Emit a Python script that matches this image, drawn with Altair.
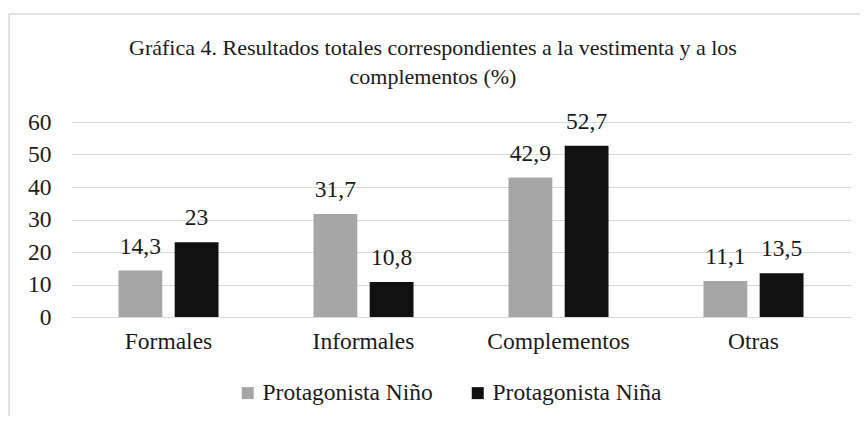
import altair as alt
import pandas as pd

categorias = ["Formales", "Informales", "Complementos", "Otras"]
series = ["Protagonista Niño", "Protagonista Niña"]
ninio = [14.3, 31.7, 42.9, 11.1]
ninia = [23, 10.8, 52.7, 13.5]
colores = ["#a6a6a6", "#111111"]

rows = []
for c, a, b in zip(categorias, ninio, ninia):
    rows.append({"categoria": c, "serie": series[0], "valor": a})
    rows.append({"categoria": c, "serie": series[1], "valor": b})
df = pd.DataFrame(rows)

FONT = "Liberation Serif"
FS = 23.5
TXT = "#1a1a1a"

x_enc = alt.X("categoria:N", sort=categorias, title=None,
              scale=alt.Scale(paddingInner=0.487, paddingOuter=0.2435),
              axis=alt.Axis(labelAngle=0, ticks=False, domain=True, domainColor="#d9d9d9",
                            labelPadding=12, labelFontSize=FS, labelFont=FONT, labelColor=TXT,
                            grid=False))
xoff = alt.XOffset("serie:N", sort=series, scale=alt.Scale(paddingInner=0.22, paddingOuter=0))
y_enc = alt.Y("valor:Q", title=None,
              scale=alt.Scale(domain=[0, 60]),
              axis=alt.Axis(values=[0, 10, 20, 30, 40, 50, 60], ticks=False, domain=False,
                            grid=True, gridColor="#d9d9d9", gridWidth=1,
                            labelPadding=20, labelFontSize=FS, labelFont=FONT, labelColor=TXT))

base = alt.Chart(df)

bars = base.mark_bar().encode(
    x=x_enc, xOffset=xoff, y=y_enc,
    color=alt.Color("serie:N", sort=series,
                    scale=alt.Scale(domain=series, range=colores),
                    legend=alt.Legend(title=None, orient="none", direction="horizontal",
                                      legendX=165, legendY=259, symbolType="square",
                                      symbolSize=144, symbolStrokeWidth=0,
                                      labelFontSize=FS, labelFont=FONT, labelColor=TXT,
                                      labelLimit=400, labelOffset=3, columnPadding=33)),
)

labels = base.transform_calculate(
    etiqueta="replace(toString(datum.valor), '.', ',')"
).mark_text(baseline="alphabetic", dy=-17, fontSize=FS, font=FONT, color=TXT).encode(
    x=x_enc, xOffset=xoff, y=y_enc, text="etiqueta:N"
)

one = pd.DataFrame({"a": [0]})
frame_top = alt.Chart(one).mark_rule(stroke="#d9d9d9", strokeWidth=1.5).encode(
    x=alt.value(-62), x2=alt.value(900), y=alt.value(-108))
frame_left = alt.Chart(one).mark_rule(stroke="#d9d9d9", strokeWidth=1.5).encode(
    x=alt.value(-62), y=alt.value(-108), y2=alt.value(600))

chart = alt.layer(frame_top, frame_left, bars, labels).properties(
    width=780, height=195,
    autosize=alt.AutoSizeParams(type="none"),
    padding={"left": 63, "top": 114, "right": 9, "bottom": 99},
    title=alt.TitleParams(
        text=["Gráfica 4. Resultados totales correspondientes a la vestimenta y a los",
              "complementos (%)"],
        font=FONT, fontSize=22, fontWeight="normal", color=TXT,
        anchor="middle", dx=-28, offset=-76, lineHeight=29,
    ),
).configure(font=FONT).configure_view(stroke=None)

chart.save("out.html", embed_options={"renderer": "svg", "actions": False})
